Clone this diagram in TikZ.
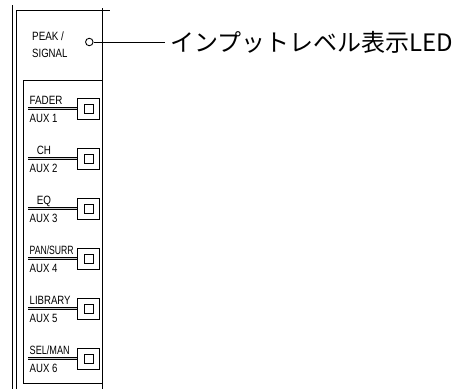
\documentclass[tikz,border=0pt]{standalone}
\usepackage{fontspec}
\usepackage{graphicx}
\setmainfont{Liberation Sans}
\newfontfamily\jpfont{Noto Sans CJK JP}
\newcommand{\narrowtxt}[2][0.8]{\scalebox{#1}[1]{#2}}
\begin{document}
\begin{tikzpicture}[x=1pt,y=-1pt,
  frame/.style={draw=black,line width=1pt},
  lbl/.style={font=\fontsize{12}{14}\selectfont,inner sep=0pt,text=black},
  btn/.style={draw=black,line width=1pt,minimum width=22pt,minimum height=21pt,inner sep=0pt},
  btnin/.style={draw=black,line width=0.9pt,minimum size=8.5pt,inner sep=0pt},
  rail/.style={draw=black,line width=0.75pt,double=black!20,double distance=1pt}]
\useasboundingbox (0,0) rectangle (455,389);
% panel frame
\draw[frame] (12.3,5) -- (12.3,389);
\draw[frame] (16.7,389) -- (16.7,10) -- (110,10);
\draw[frame] (102.7,8) -- (102.7,389);
\draw[frame] (102.7,383.3) -- (23.3,383.3) -- (23.3,80) -- (102.7,80);
% peak/signal
\node[lbl,anchor=base west] (peak) at (32,40.5) {\narrowtxt[0.82]{PEAK /}};
\node[lbl,anchor=base west] (signal) at (32,57) {\narrowtxt{SIGNAL}};
\node[draw=black,line width=0.9pt,circle,minimum size=7.5pt,inner sep=0pt] (led) at (89.3,42) {};
\node[font=\jpfont\fontsize{24}{27}\selectfont,anchor=west,inner sep=5pt] (ledtext) at (165,42) {インプットレベル表示LED};
\draw[line width=0.9pt] (led.east) -- (ledtext.west);
% buttons
\foreach \i/\top/\bot/\mode/\sc in {0/FADER/AUX 1/l/0.82,1/CH/AUX 2/c/0.82,2/EQ/AUX 3/c/0.82,3/PAN\slash SURR/AUX 4/l/0.72,4/LIBRARY/AUX 5/l/0.8,5/SEL\slash MAN/AUX 6/l/0.76}{
  \pgfmathsetmacro{\c}{108.5+50*\i}
  \node[btn] (b\i) at (88.5,\c) {};
  \node[btnin] (bi\i) at (88.8,\c+0.5) {};
  \coordinate (r\i) at (28,\c);
  \draw[rail] (r\i) -- (r\i -| b\i.west);
  \if l\mode
    \node[lbl,anchor=base west] (t\i) at (29.5,\c-3.7) {\narrowtxt[\sc]{\top}};
  \else
    \node[lbl,anchor=base] (t\i) at (44,\c-3.7) {\narrowtxt[\sc]{\top}};
  \fi
  \node[lbl,anchor=base west] (a\i) at (29.5,\c+14) {\narrowtxt[0.8]{\bot}};
}
\end{tikzpicture}
\end{document}
